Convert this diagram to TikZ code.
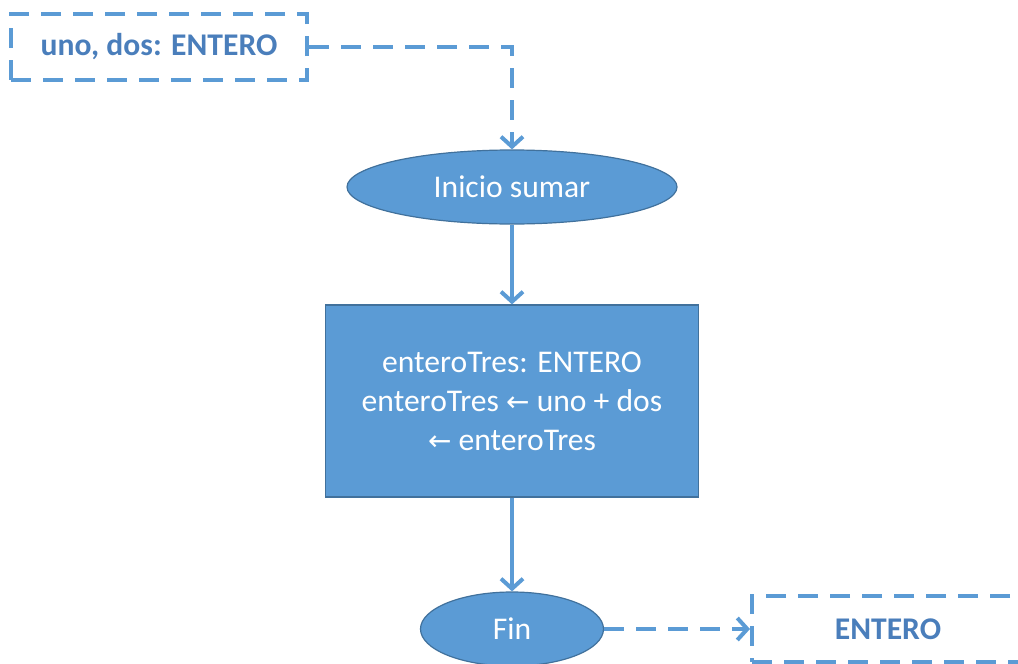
\documentclass[tikz,border=0pt]{standalone}
\usepackage{fontspec}
\setmainfont{Carlito}
\newfontfamily\arrowfont{DejaVu Sans}
\usetikzlibrary{arrows.meta,shapes.geometric}
\definecolor{boxfill}{HTML}{5B9BD5}
\definecolor{boxline}{HTML}{41719C}
\definecolor{iotext}{HTML}{4A7EBB}
\begin{document}
\begin{tikzpicture}[x=0.5pt,y=-0.5pt,
  term/.style={ellipse, draw=boxline, line width=0.6pt, fill=boxfill, text=white,
    font=\fontsize{15.8}{19.5}\selectfont, minimum width=165pt, minimum height=37pt, inner sep=0pt},
  procbox/.style={rectangle, draw=boxline, line width=0.6pt, fill=boxfill, text=white, align=center,
    font=\fontsize{15.8}{19.5}\selectfont, minimum width=186.5pt, minimum height=96pt, inner sep=0pt},
  iobox/.style={rectangle, draw=boxfill, line width=2pt, dash pattern=on 10pt off 6pt, text=iotext,
    font=\fontsize{15.8}{19.5}\selectfont\bfseries, minimum height=33pt, inner sep=0pt},
  flow/.style={draw=boxfill, line width=2pt, -{Straight Barb[length=5pt,width=11pt]}},
  ioflow/.style={flow, dash pattern=on 10pt off 6pt}]
  \useasboundingbox (0,0) rectangle (1018,664);
  \clip (0,0) rectangle (1018,664);

  \node[iobox, minimum width=148pt] (in) at (159,47) {uno, dos: ENTERO};
  \node[term] (start) at (512,187) {Inicio sumar};
  \node[procbox] (calc) at (512,401) {enteroTres: ENTERO\\enteroTres {\arrowfont\fontsize{14}{19.5}\selectfont ←} uno + dos\\{\arrowfont\fontsize{14}{19.5}\selectfont ←} enteroTres};
  \node[term, minimum width=91.5pt] (fin) at (512,629) {Fin};
  \node[iobox, minimum width=136pt] (out) at (888,629) {ENTERO};

  \draw[ioflow] (in.east) -| (start.north);
  \draw[flow] (start) -- (calc);
  \draw[flow] (calc) -- (fin);
  \draw[ioflow] (fin.east) -- (out.west);
\end{tikzpicture}
\end{document}
